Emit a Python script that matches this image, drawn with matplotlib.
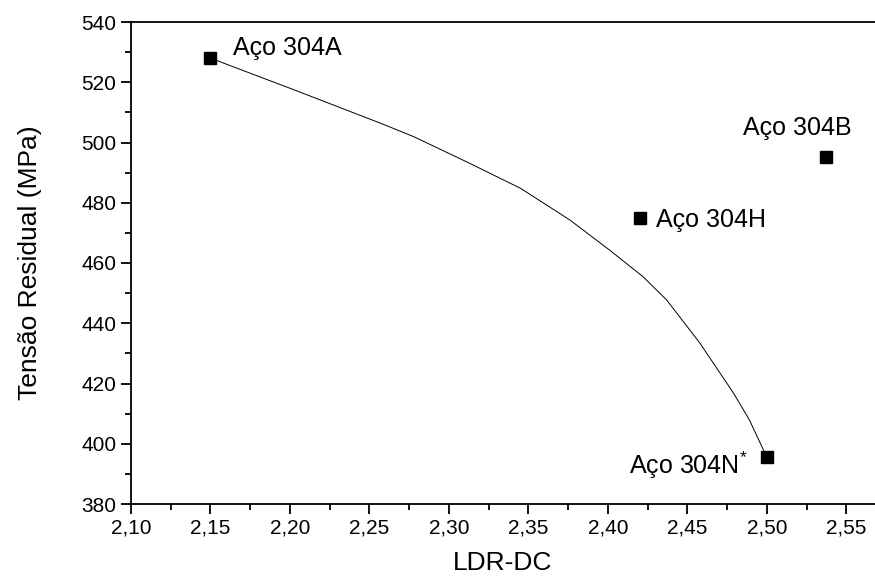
import matplotlib.pyplot as plt
from matplotlib.ticker import MultipleLocator, FuncFormatter

plt.rcParams['font.family'] = ['Liberation Sans', 'DejaVu Sans']
plt.rcParams['mathtext.fontset'] = 'custom'
plt.rcParams['mathtext.rm'] = 'Liberation Sans'
plt.rcParams['mathtext.it'] = 'Liberation Sans'

# measured points (LDR-DC vs residual stress)
steels = ['Aço 304A', 'Aço 304H', 'Aço 304B', 'Aço 304N$^{*}$']
ldr = [2.150, 2.420, 2.537, 2.500]
tension = [528.0, 475.0, 495.3, 395.5]

# label anchors (left / baseline)
label_x = [2.164, 2.430, 2.485, 2.413]
label_y = [529.0, 471.8, 502.5, 390.0]

# fitted curve
curve_x = [2.150, 2.202, 2.257, 2.278, 2.313, 2.345, 2.376, 2.401,
           2.422, 2.437, 2.458, 2.479, 2.489, 2.500]
curve_y = [528.0, 517.6, 506.4, 501.9, 493.1, 484.8, 474.3, 464.3,
           455.5, 447.7, 433.3, 416.8, 407.9, 395.5]

fig = plt.figure(figsize=(8.75, 5.8), dpi=100)
ax = fig.add_axes([131/875, 1 - 504/580, 1 - 131/875, (504 - 22)/580])

ax.plot(curve_x, curve_y, color='black', lw=0.7)
ax.plot(ldr, tension, ls='none', marker='s', ms=8, color='black')

for name, lx, ly in zip(steels, label_x, label_y):
    ax.text(lx, ly, name, fontsize=18, ha='left', va='baseline')

ax.set_xlim(2.10, 2.568)
ax.set_ylim(380, 540)
ax.xaxis.set_major_locator(MultipleLocator(0.05))
ax.xaxis.set_minor_locator(MultipleLocator(0.025))
ax.yaxis.set_major_locator(MultipleLocator(20))
ax.yaxis.set_minor_locator(MultipleLocator(10))
ax.xaxis.set_major_formatter(FuncFormatter(lambda v, p: '{:.2f}'.format(v).replace('.', ',')))

ax.spines['right'].set_visible(False)
for s in ['left', 'bottom', 'top']:
    ax.spines[s].set_linewidth(1.3)
ax.tick_params(which='major', direction='out', length=7, width=1.3, labelsize=15)
ax.tick_params(which='minor', direction='out', length=4, width=1.3)
ax.tick_params(top=False, right=False, which='both')

ax.set_xlabel('LDR-DC', fontsize=19, labelpad=10)
ax.set_ylabel('Tensão Residual (MPa)', fontsize=19, labelpad=28)

fig.savefig('out.png', dpi=100)
